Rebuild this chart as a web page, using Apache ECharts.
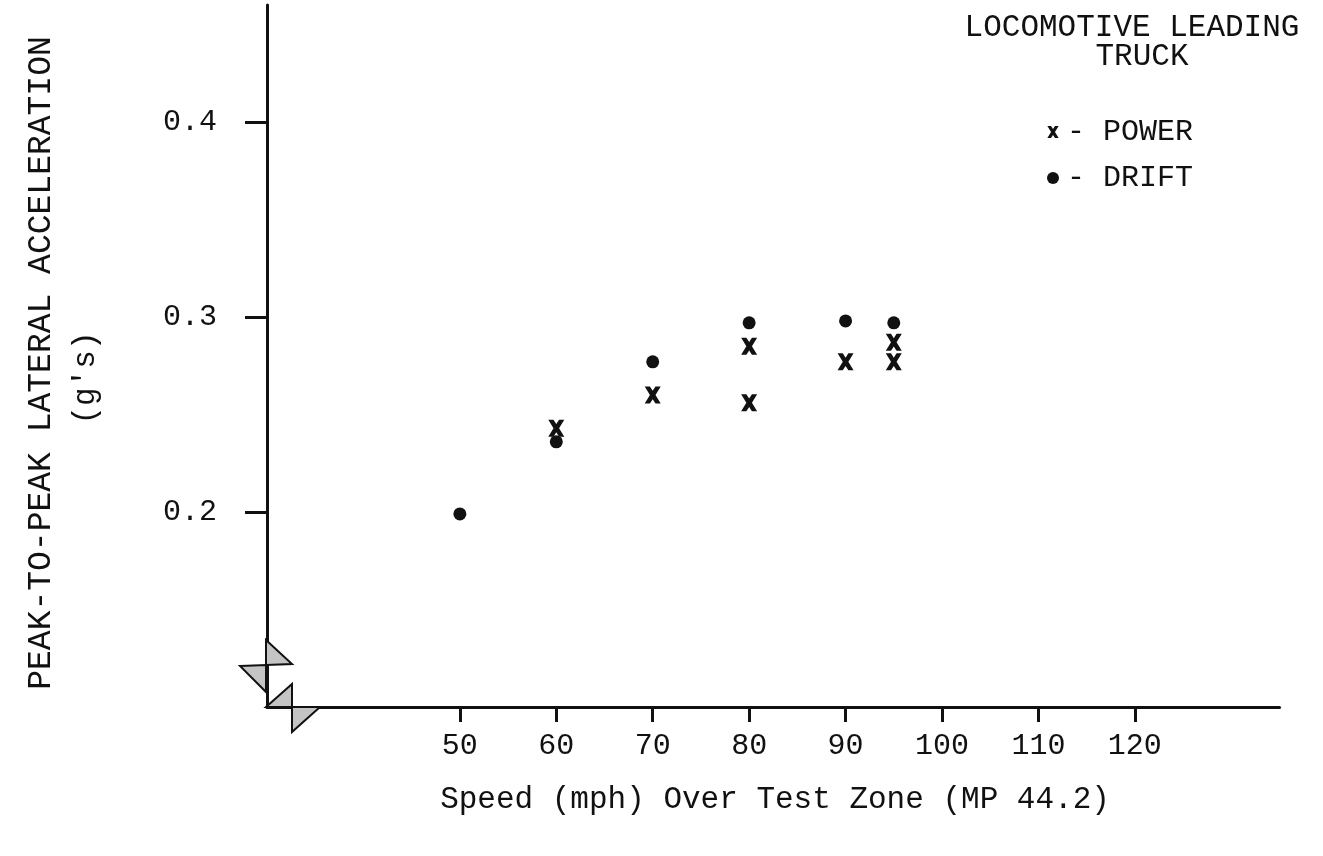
<!DOCTYPE html>
<html>
<head>
<meta charset="utf-8">
<script src="https://cdn.jsdelivr.net/npm/echarts@6/dist/echarts.min.js"></script>
<style>
  html, body { margin: 0; padding: 0; background: #fff; }
  #chart { width: 1323px; height: 856px; }
</style>
</head>
<body>
<div id="chart"></div>
<script>
// Peak-to-peak lateral acceleration vs. speed, locomotive leading truck
const driftSpeed = [50, 60, 70, 80, 90, 95];
const driftAccel = [0.199, 0.236, 0.277, 0.297, 0.298, 0.297];
const powerSpeed = [60, 70, 80, 80, 90, 95, 95];
const powerAccel = [0.243, 0.260, 0.285, 0.256, 0.277, 0.287, 0.277];
const xTicks = [50, 60, 70, 80, 90, 100, 110, 120];
const yTicks = [0.2, 0.3, 0.4];

const INK = '#111111';
const FONT = '"Liberation Mono", "DejaVu Sans Mono", monospace';
// bold typed "X" mark
const X_PATH = 'path://M0,0 L5.2,0 L8,4.3 L10.8,0 L16,0 L10.8,8.5 L16,17 L10.8,17 L8,12.7 L5.2,17 L0,17 L5.2,8.5 Z';

const pairs = (xs, ys) => xs.map((x, i) => [x, ys[i]]);

const chart = echarts.init(document.getElementById('chart'), null, { renderer: 'canvas' });

// axis-break glyphs at the origin
const breakStyle = { fill: '#c4c4c4', stroke: INK, lineWidth: 2, lineJoin: 'miter' };
const breaks = [
  [[266, 640], [292, 664], [266, 665]],
  [[240, 666], [266, 665], [266, 692]],
  [[292, 684], [292, 707], [266, 707]],
  [[292, 707], [320, 707], [292, 732]]
].map(pts => ({ type: 'polygon', z: 100, shape: { points: pts }, style: breakStyle }));

chart.setOption({
  backgroundColor: '#ffffff',
  animation: false,
  grid: { left: 267, right: 43.5, top: 5, bottom: 149, containLabel: false },
  xAxis: {
    type: 'value',
    min: 30, max: 135,
    interval: 10,
    splitLine: { show: false },
    axisLine: { show: true, onZero: false, lineStyle: { color: INK, width: 3 } },
    axisTick: { show: true, length: 15, customValues: xTicks, lineStyle: { color: INK, width: 3 } },
    axisLabel: { customValues: xTicks, margin: 24, color: INK, fontFamily: FONT, fontSize: 30 }
  },
  yAxis: {
    type: 'value',
    min: 0.1, max: 0.46,
    interval: 0.1,
    splitLine: { show: false },
    axisLine: { show: true, onZero: false, lineStyle: { color: INK, width: 3 } },
    axisTick: { show: true, length: 22, customValues: yTicks, lineStyle: { color: INK, width: 3 } },
    axisLabel: {
      customValues: yTicks, margin: 50, color: INK, fontFamily: FONT, fontSize: 30,
      formatter: v => v.toFixed(1)
    }
  },
  legend: {
    orient: 'vertical',
    left: 1042, top: 110,
    itemWidth: 12, itemHeight: 12, itemGap: 12,
    formatter: name => '- ' + name,
    textStyle: { color: INK, fontFamily: FONT, fontSize: 30, lineHeight: 34, padding: [0, 0, 0, 3] },
    data: [
      { name: 'POWER', icon: X_PATH, itemStyle: { opacity: 1 } },
      { name: 'DRIFT', icon: 'circle', itemStyle: { opacity: 1 } }
    ]
  },
  series: [
    {
      name: 'POWER', type: 'scatter',
      symbol: X_PATH, symbolSize: [16, 17],
      itemStyle: { color: INK, opacity: 1 },
      data: pairs(powerSpeed, powerAccel)
    },
    {
      name: 'DRIFT', type: 'scatter',
      symbol: 'circle', symbolSize: 13,
      itemStyle: { color: INK, opacity: 1 },
      data: pairs(driftSpeed, driftAccel)
    }
  ],
  graphic: [
    ...breaks,
    {
      type: 'text', x: 41, y: 363, rotation: Math.PI / 2,
      style: { text: 'PEAK-TO-PEAK LATERAL ACCELERATION', fill: INK, fontFamily: FONT, fontSize: 33, align: 'center', verticalAlign: 'middle' }
    },
    {
      type: 'text', x: 86, y: 378, rotation: Math.PI / 2,
      style: { text: "(g's)", fill: INK, fontFamily: FONT, fontSize: 31, align: 'center', verticalAlign: 'middle' }
    },
    {
      type: 'text', x: 775, y: 800,
      style: { text: 'Speed (mph) Over Test Zone (MP 44.2)', fill: INK, fontFamily: FONT, fontSize: 31, align: 'center', verticalAlign: 'middle' }
    },
    {
      type: 'text', x: 1132, y: 28,
      style: { text: 'LOCOMOTIVE LEADING', fill: INK, fontFamily: FONT, fontSize: 31, align: 'center', verticalAlign: 'middle' }
    },
    {
      type: 'text', x: 1142, y: 57,
      style: { text: 'TRUCK', fill: INK, fontFamily: FONT, fontSize: 31, align: 'center', verticalAlign: 'middle' }
    }
  ]
});
</script>
</body>
</html>
